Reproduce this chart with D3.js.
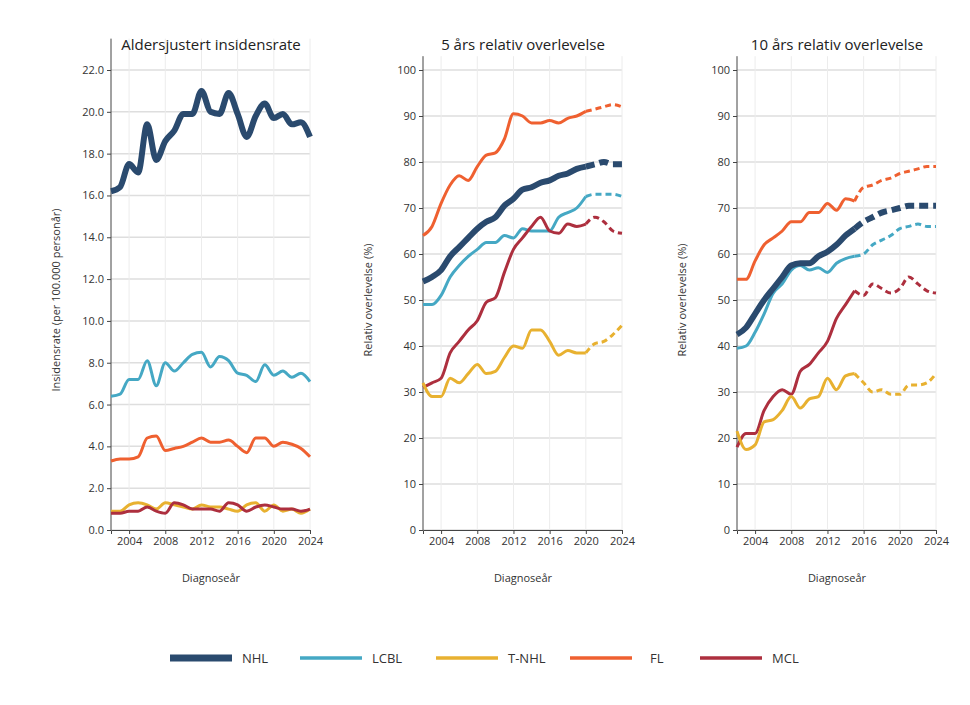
<!DOCTYPE html>
<html><head><meta charset="utf-8">
<script src="https://cdn.jsdelivr.net/npm/d3@7"></script>
<style>body{margin:0;background:#fff;font-family:"Open Sans",sans-serif}</style>
</head><body><svg id="c" width="970" height="705"></svg>
<script>
var years = d3.range(2002, 2025);
var seriesNames = ["NHL", "LCBL", "T-NHL", "FL", "MCL"];
var colors = {"NHL":"#2a4a6e","LCBL":"#45a8c4","T-NHL":"#e8b130","FL":"#ef6030","MCL":"#ad2f3e"};

// incidence per 100 000
var incNHL  = [16.2,16.4,17.5,17.1,19.4,17.7,18.6,19.1,19.9,19.9,21.0,20.0,19.9,20.9,19.9,18.8,19.8,20.4,19.7,19.9,19.4,19.5,18.8];
var incLCBL = [6.4,6.5,7.2,7.2,8.1,6.9,8.0,7.6,8.0,8.4,8.5,7.8,8.3,8.1,7.5,7.4,7.1,7.9,7.4,7.6,7.3,7.5,7.1];
var incTNHL = [0.9,0.9,1.2,1.3,1.2,1.0,1.3,1.2,1.1,1.0,1.2,1.1,1.1,1.0,0.9,1.2,1.3,0.9,1.2,0.9,1.0,0.8,1.0];
var incFL   = [3.3,3.4,3.4,3.5,4.4,4.5,3.8,3.9,4.0,4.2,4.4,4.2,4.2,4.3,4.0,3.7,4.4,4.4,4.0,4.2,4.1,3.9,3.5];
var incMCL  = [0.8,0.8,0.9,0.9,1.1,0.9,0.8,1.3,1.2,1.0,1.0,1.0,0.9,1.3,1.2,0.9,1.1,1.2,1.1,1.0,1.0,0.9,1.0];

// 5 year relative survival, dashed after 2020
var s5NHL  = [54,55,56.5,59.5,61.5,63.5,65.5,67,68,70.5,72,74,74.5,75.5,76,77,77.5,78.5,79,79.5,80,79.5,79.5];
var s5LCBL = [49,49,51,55,57.5,59.5,61,62.5,62.5,64,63.5,65.5,65,65,65,68,69,70,72.5,73,73,73,72.5];
var s5TNHL = [32,29,29,33,32,34,36,34,34.5,37.5,40,39.5,43.5,43.5,41,38,39,38.5,38.5,40.5,41,42.5,44.5];
var s5FL   = [64,66,71,75,77,76,79,81.5,82,85,90.5,90,88.5,88.5,89,88.5,89.5,90,91,91.5,92,92.5,92];
var s5MCL  = [31,32,33,38.5,41,43.5,45.5,49.5,50.5,56,61,63.5,66,68,65,64.5,66.5,66,66.5,68,67,65,64.5];

// 10 year relative survival, dashed after 2015
var s10NHL  = [42.5,44,47,50,52.5,55,57.5,58,58,59.5,60.5,62,64,65.5,67,68,69,69.5,70,70.5,70.5,70.5,70.5];
var s10LCBL = [39.5,40,43,47,51.5,53.5,56.5,57.5,56.5,57,56,58,59,59.5,60,62,63,64,65.5,66,66.5,66,66];
var s10TNHL = [21.5,17.5,18.5,23.5,24,26,29,26.5,28.5,29,33,30.5,33.5,34,32,30,30.5,29.5,29.5,31.5,31.5,32,34];
var s10FL   = [54.5,54.5,58.5,62,63.5,65,67,67,69,69,71,69.5,72,71.5,74.5,75,76,76.5,77.5,78,78.5,79,79];
var s10MCL  = [18,21,21,26,29,30.5,29.5,34.5,36,38.5,41,46,49,52,51,53.5,52.5,51.5,52.5,55,53.5,52,51.5];

var xTicks = [2004, 2008, 2012, 2016, 2020, 2024];

var svg = d3.select("#c");

function panel(opt){
    var g = svg.append("g");
    var x = d3.scaleLinear().domain([2002, 2024]).range([opt.x0, opt.x0 + 199]);
    var y = d3.scaleLinear().domain([0, opt.max]).range([530, 530 - 460 * opt.max / opt.top]);

    // grid
    g.selectAll(".hg").data(opt.yTicks).enter().append("line")
        .attr("x1", opt.x0).attr("x2", opt.x0 + 199)
        .attr("y1", function(d){ return y(d); }).attr("y2", function(d){ return y(d); })
        .attr("stroke", "#dedede").attr("stroke-width", 1.5);
    g.selectAll(".vg").data(xTicks).enter().append("line")
        .attr("x1", function(d){ return x(d); }).attr("x2", function(d){ return x(d); })
        .attr("y1", y(opt.max)).attr("y2", 530)
        .attr("stroke", "#ececec").attr("stroke-width", 1);

    var ya = g.append("g").attr("transform", "translate(" + opt.x0 + ",0)")
        .call(d3.axisLeft(y).tickValues(opt.yTicks).tickSize(4).tickFormat(opt.fmt));
    var xa = g.append("g").attr("transform", "translate(0,530)")
        .call(d3.axisBottom(x).tickValues(xTicks).tickSize(4).tickFormat(d3.format("d")));
    [ya, xa].forEach(function(a){
        a.select(".domain").attr("stroke", "#444");
        a.selectAll(".tick line").attr("stroke", "#444");
        a.selectAll("text").attr("fill", "#333").style("font-size", "11px").style("font-family", "Open Sans");
    });
    ya.select(".domain").attr("d", "M0," + y(opt.max) + "V530");

    g.append("text").attr("x", opt.x0 + 100).attr("y", 50).attr("text-anchor", "middle")
        .style("font-size", "15px").attr("fill", "#222").text(opt.title);
    g.append("text").attr("x", opt.x0 + 100).attr("y", 582).attr("text-anchor", "middle")
        .style("font-size", "11px").attr("fill", "#333").text("Diagnoseår");
    g.append("text").attr("transform", "translate(" + opt.yl + ",300) rotate(-90)")
        .attr("text-anchor", "middle").style("font-size", "11px").attr("fill", "#333").text(opt.ytitle);

    var line = d3.line().x(function(d){ return x(d[0]); }).y(function(d){ return y(d[1]); })
        .curve(d3.curveMonotoneX);
    // draw in the order seen: thin ones first, NHL on top
    var order = opt.order;
    order.forEach(function(name){
        var vals = opt.data[name];
        var pts = years.map(function(yr, i){ return [yr, vals[i]]; });
        var w = name == "NHL" ? 6 : 3;
        var solid = pts.filter(function(p){ return p[0] <= opt.split; });
        var dash = pts.filter(function(p){ return p[0] >= opt.split; });
        g.append("path").attr("d", line(solid)).attr("fill", "none")
            .attr("stroke", colors[name]).attr("stroke-width", w);
        if (dash.length > 1) {
            g.append("path").attr("d", line(dash)).attr("fill", "none")
                .attr("stroke", colors[name]).attr("stroke-width", w)
                .attr("stroke-dasharray", name == "NHL" ? "9,5" : "6,4");
        }
    });
}

var yInc = d3.range(0, 22.1, 2);
var ySurv = d3.range(0, 101, 10);

panel({x0: 111, title: "Aldersjustert insidensrate", ytitle: "Insidensrate (per 100.000 personår)", yl: 60,
    max: 23.5, top: 22, yTicks: yInc, fmt: d3.format(".1f"), split: 2024,
    order: ["LCBL", "FL", "T-NHL", "MCL", "NHL"],
    data: {"NHL": incNHL, "LCBL": incLCBL, "T-NHL": incTNHL, "FL": incFL, "MCL": incMCL}});
panel({x0: 423, title: "5 års relativ overlevelse", ytitle: "Relativ overlevelse (%)", yl: 372,
    max: 103, top: 100, yTicks: ySurv, fmt: d3.format("d"), split: 2020,
    order: ["FL", "LCBL", "MCL", "T-NHL", "NHL"],
    data: {"NHL": s5NHL, "LCBL": s5LCBL, "T-NHL": s5TNHL, "FL": s5FL, "MCL": s5MCL}});
panel({x0: 737, title: "10 års relativ overlevelse", ytitle: "Relativ overlevelse (%)", yl: 686,
    max: 103, top: 100, yTicks: ySurv, fmt: d3.format("d"), split: 2015,
    order: ["FL", "LCBL", "MCL", "T-NHL", "NHL"],
    data: {"NHL": s10NHL, "LCBL": s10LCBL, "T-NHL": s10TNHL, "FL": s10FL, "MCL": s10MCL}});

// legend
var legX = [170, 300, 436, 570, 700];
var leg = svg.selectAll(".leg").data(seriesNames).enter().append("g")
    .attr("transform", function(d, i){ return "translate(" + legX[i] + ",658)"; });
leg.append("line").attr("x1", 0).attr("x2", 62).attr("stroke", function(d){ return colors[d]; })
    .attr("stroke-width", function(d){ return d == "NHL" ? 7 : 3.5; });
leg.append("text").attr("x", function(d){ return d == "FL" ? 80 : 72; }).attr("y", 5)
    .style("font-size", "13px").attr("fill", "#333").text(function(d){ return d; });
</script></body></html>
